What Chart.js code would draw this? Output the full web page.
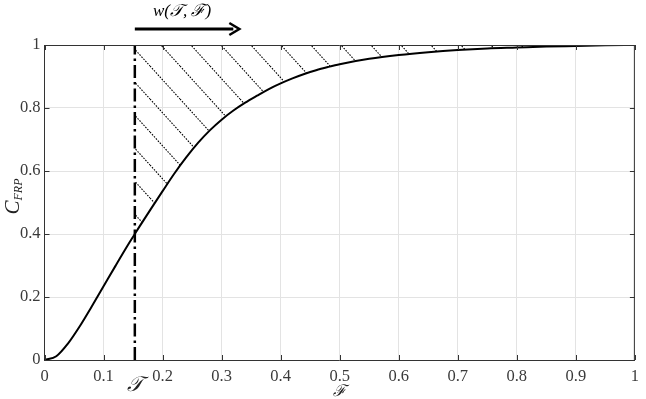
<!DOCTYPE html>
<html>
<head>
<meta charset="utf-8">
<script src="https://cdn.jsdelivr.net/npm/chart.js@4"></script>
<style>
html,body{margin:0;padding:0;background:#fff;}
#wrap{width:646px;height:399px;}
</style>
</head>
<body>
<div id="wrap"><canvas id="c" width="646" height="399"></canvas></div>
<script>
// ---- data ----
const xValues = [0, 0.02, 0.04, 0.06, 0.08, 0.10, 0.12, 0.14, 0.153, 0.16, 0.18, 0.20, 0.22, 0.24, 0.26, 0.28, 0.30, 0.32, 0.34, 0.36, 0.38, 0.40, 0.42, 0.44, 0.46, 0.48, 0.50, 0.55, 0.60, 0.65, 0.70, 0.75, 0.80, 0.85, 0.90, 0.95, 1.0];
const cFRP    = [0, 0.012, 0.053, 0.108, 0.170, 0.234, 0.298, 0.361, 0.400, 0.421, 0.479, 0.536, 0.592, 0.643, 0.689, 0.729, 0.763, 0.792, 0.817, 0.839, 0.860, 0.878, 0.894, 0.908, 0.920, 0.930, 0.939, 0.956, 0.968, 0.977, 0.984, 0.989, 0.992, 0.995, 0.997, 0.999, 1.0];
const thresholdT = 0.153;
const arrowEndF = 0.33;
const xTicks = [0, 0.1, 0.2, 0.3, 0.4, 0.5, 0.6, 0.7, 0.8, 0.9, 1];
const yTicks = [0, 0.2, 0.4, 0.6, 0.8, 1];

const curvePts = xValues.map((x, i) => ({x: x, y: cFRP[i]}));
const hatchPts = curvePts.filter(p => p.x >= thresholdT);
const vLinePts = [{x: thresholdT, y: 0}, {x: thresholdT, y: 1}];

// hatch pattern (dotted diagonal lines)
function makeHatch() {
  const W = 30, H = 33;
  const pc = document.createElement('canvas');
  pc.width = W; pc.height = H;
  const g = pc.getContext('2d');
  g.strokeStyle = '#000';
  g.lineWidth = 1.1;
  g.setLineDash([1.6, 1.3]);
  for (const k of [-1, 0, 1]) {
    g.beginPath();
    g.moveTo(k * W, 0);
    g.lineTo(k * W + W, H);
    g.stroke();
  }
  return document.getElementById('c').getContext('2d').createPattern(pc, 'repeat');
}

const SERIF = '"Liberation Serif", "Times New Roman", serif';
const TEXT = '#3a3a3a';

const decor = {
  id: 'decor',
  afterDraw(chart) {
    const ctx = chart.ctx;
    const xs = chart.scales.x, ys = chart.scales.y;
    const a = chart.chartArea;
    ctx.save();
    // top and right border
    ctx.strokeStyle = '#333';
    ctx.lineWidth = 1;
    ctx.beginPath();
    ctx.moveTo(a.left, a.top + 0.5); ctx.lineTo(a.right, a.top + 0.5);
    ctx.moveTo(a.right - 0.5, a.top); ctx.lineTo(a.right - 0.5, a.bottom);
    ctx.stroke();
    // inner ticks
    const tl = 5;
    ctx.beginPath();
    xTicks.forEach(v => {
      const px = Math.round(xs.getPixelForValue(v)) + 0.5;
      ctx.moveTo(px, a.bottom); ctx.lineTo(px, a.bottom - tl);
      ctx.moveTo(px, a.top); ctx.lineTo(px, a.top + tl);
    });
    yTicks.forEach(v => {
      const py = Math.round(ys.getPixelForValue(v)) + 0.5;
      ctx.moveTo(a.left, py); ctx.lineTo(a.left + tl, py);
      ctx.moveTo(a.right, py); ctx.lineTo(a.right - tl, py);
    });
    ctx.stroke();

    // arrow w(T,F)
    const x0 = xs.getPixelForValue(thresholdT);
    const x1 = xs.getPixelForValue(arrowEndF);
    const ay = a.top - 16;
    ctx.strokeStyle = '#000';
    ctx.fillStyle = '#000';
    ctx.lineWidth = 3;
    ctx.beginPath();
    ctx.moveTo(x0, ay); ctx.lineTo(x1 - 6, ay);
    ctx.stroke();
    ctx.lineWidth = 2.5;
    ctx.lineJoin = 'miter';
    ctx.beginPath();
    ctx.moveTo(x1 - 10, ay - 6);
    ctx.lineTo(x1, ay);
    ctx.lineTo(x1 - 10, ay + 6);
    ctx.stroke();

    ctx.textBaseline = 'middle';
    ctx.textAlign = 'center';
    ctx.font = 'italic 17px ' + SERIF;
    ctx.fillText('w(\u{1D4AF}, \u2131)', (x0 + x1) / 2 - 5, 12);

    // x-axis extra labels
    ctx.fillStyle = '#222';
    ctx.font = 'italic 21px ' + SERIF;
    ctx.fillText('\u{1D4AF}', x0, a.bottom + 25);
    ctx.font = 'italic 16px ' + SERIF;
    ctx.fillText('\u2131', xs.getPixelForValue(0.5), a.bottom + 32);

    // y-axis title C_FRP
    ctx.save();
    ctx.translate(13, (a.top + a.bottom) / 2 - 6);
    ctx.rotate(-Math.PI / 2);
    ctx.textAlign = 'left';
    ctx.textBaseline = 'alphabetic';
    ctx.fillStyle = '#222';
    ctx.font = 'italic 21px ' + SERIF;
    const wC = ctx.measureText('C').width;
    ctx.font = 'italic 12px ' + SERIF;
    const wS = ctx.measureText('FRP').width;
    const start = -(wC + wS) / 2;
    ctx.font = 'italic 21px ' + SERIF;
    ctx.fillText('C', start, 6);
    ctx.font = 'italic 12px ' + SERIF;
    ctx.fillText('FRP', start + wC, 9);
    ctx.restore();

    ctx.restore();
  }
};

const fmt = v => {
  const r = Math.round(v * 10) / 10;
  return r.toString();
};

new Chart(document.getElementById('c'), {
  type: 'line',
  data: {
    datasets: [
      {
        data: curvePts, borderColor: '#000', borderWidth: 2,
        pointRadius: 0, cubicInterpolationMode: 'monotone', fill: false
      },
      {
        data: vLinePts, borderColor: '#000', borderWidth: 2.5,
        borderDash: [13, 4, 2.5, 4], pointRadius: 0, fill: false
      },
      {
        data: hatchPts, borderWidth: 0, borderColor: 'rgba(0,0,0,0)',
        pointRadius: 0, cubicInterpolationMode: 'monotone',
        fill: 'end', backgroundColor: makeHatch()
      }
    ]
  },
  options: {
    responsive: false,
    animation: false,
    events: [],
    layout: {padding: {top: 45, right: 3, left: 0, bottom: 0}},
    plugins: {legend: {display: false}, tooltip: {enabled: false}},
    scales: {
      x: {
        type: 'linear', min: 0, max: 1,
        afterFit: s => { s.height = 39; },
        afterBuildTicks: s => { s.ticks = xTicks.map(v => ({value: v})); },
        grid: {color: '#e3e3e3', lineWidth: 1, drawTicks: false},
        border: {display: true, color: '#333', width: 1},
        ticks: {
          callback: fmt, color: TEXT, padding: 7, maxRotation: 0,
          font: {family: SERIF, size: 16.5}
        }
      },
      y: {
        type: 'linear', min: 0, max: 1,
        afterFit: s => { s.width = 44.5; },
        afterBuildTicks: s => { s.ticks = yTicks.map(v => ({value: v})); },
        grid: {color: '#e3e3e3', lineWidth: 1, drawTicks: false},
        border: {display: true, color: '#333', width: 1},
        ticks: {
          callback: fmt, color: TEXT, padding: 4,
          font: {family: SERIF, size: 16.5}
        }
      }
    }
  },
  plugins: [decor]
});
</script>
</body>
</html>
